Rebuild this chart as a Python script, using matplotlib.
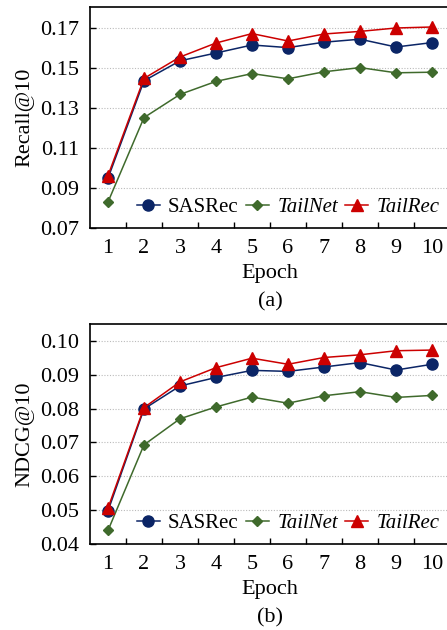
import matplotlib
matplotlib.use("Agg")
import matplotlib.pyplot as plt

plt.rcParams["font.family"] = ["Liberation Serif", "DejaVu Serif"]

epochs = [1, 2, 3, 4, 5, 6, 7, 8, 9, 10]

# Recall@10
recall_sasrec = [0.0949, 0.1436, 0.1536, 0.1575, 0.1615, 0.1602, 0.1629, 0.1644, 0.1605, 0.1627]
recall_tailnet = [0.0830, 0.1252, 0.1368, 0.1433, 0.1472, 0.1446, 0.1481, 0.1502, 0.1476, 0.1479]
recall_tailrec = [0.0962, 0.1448, 0.1555, 0.1625, 0.1672, 0.1635, 0.1670, 0.1683, 0.1700, 0.1705]

# NDCG@10
ndcg_sasrec = [0.0498, 0.0799, 0.0867, 0.0892, 0.0913, 0.0910, 0.0923, 0.0936, 0.0914, 0.0931]
ndcg_tailnet = [0.0440, 0.0693, 0.0770, 0.0805, 0.0834, 0.0816, 0.0838, 0.0850, 0.0833, 0.0839]
ndcg_tailrec = [0.0506, 0.0803, 0.0879, 0.0921, 0.0949, 0.0931, 0.0951, 0.0959, 0.0971, 0.0973]

recall_ticks = [0.07, 0.09, 0.11, 0.13, 0.15, 0.17]
ndcg_ticks = [0.04, 0.05, 0.06, 0.07, 0.08, 0.09, 0.10]

c_sas = "#0b2566"
c_net = "#3f6a2c"
c_rec = "#cc0000"
fs = 16

fig = plt.figure(figsize=(4.47, 6.3), dpi=100)
ax_a = fig.add_axes([90 / 447, 1 - 228 / 630, 360 / 447, 221 / 630])
ax_b = fig.add_axes([90 / 447, 1 - 544 / 630, 360 / 447, 220 / 630])


def draw(ax, sas, net, rec, yticks, ylim, ylabel, tag):
    ax.plot(epochs, sas, color=c_sas, marker="o", ms=8, lw=1.1, label="SASRec", zorder=3)
    ax.plot(epochs, net, color=c_net, marker="D", ms=5.5, lw=1.1, label="TailNet", zorder=3)
    ax.plot(epochs, rec, color=c_rec, marker="^", ms=8.5, lw=1.1, label="TailRec", zorder=4)
    ax.set_xlim(0.5, 10.5)
    ax.set_ylim(*ylim)
    ax.set_yticks(yticks)
    ax.set_yticklabels([f"{t:.2f}" for t in yticks], fontsize=fs)
    ax.set_xticks(epochs)
    ax.set_xticklabels([str(e) for e in epochs], fontsize=fs)
    ax.set_xticks([e + 0.5 for e in epochs[:-1]], minor=True)
    ax.tick_params(axis="x", which="major", length=0, pad=8)
    ax.tick_params(axis="x", which="minor", direction="in", length=4, width=1)
    ax.tick_params(axis="y", direction="in", length=4, width=1, pad=8)
    for t in yticks[1:]:
        ax.axhline(t, color="#bbbbbb", lw=0.8, ls=(0, (1, 1.5)), zorder=1)
    for s in ax.spines.values():
        s.set_linewidth(1.2)
    ax.set_ylabel(ylabel, fontsize=fs, labelpad=4)
    ax.set_xlabel("Epoch", fontsize=fs, labelpad=4)
    ax.text(0.5, -0.335, tag, transform=ax.transAxes, ha="center", va="center", fontsize=fs)
    leg = ax.legend(loc="center left", bbox_to_anchor=(0.13, 0.095), ncol=3, frameon=False,
                    fontsize=15, handlelength=1.1, handletextpad=0.4, columnspacing=0.35,
                    borderpad=0, borderaxespad=0)
    leg.get_texts()[1].set_style("italic")
    leg.get_texts()[2].set_style("italic")


draw(ax_a, recall_sasrec, recall_tailnet, recall_tailrec, recall_ticks, (0.07, 0.1805), "Recall@10", "(a)")
draw(ax_b, ndcg_sasrec, ndcg_tailnet, ndcg_tailrec, ndcg_ticks, (0.04, 0.105), "NDCG@10", "(b)")

fig.savefig("out.png", dpi=100)
